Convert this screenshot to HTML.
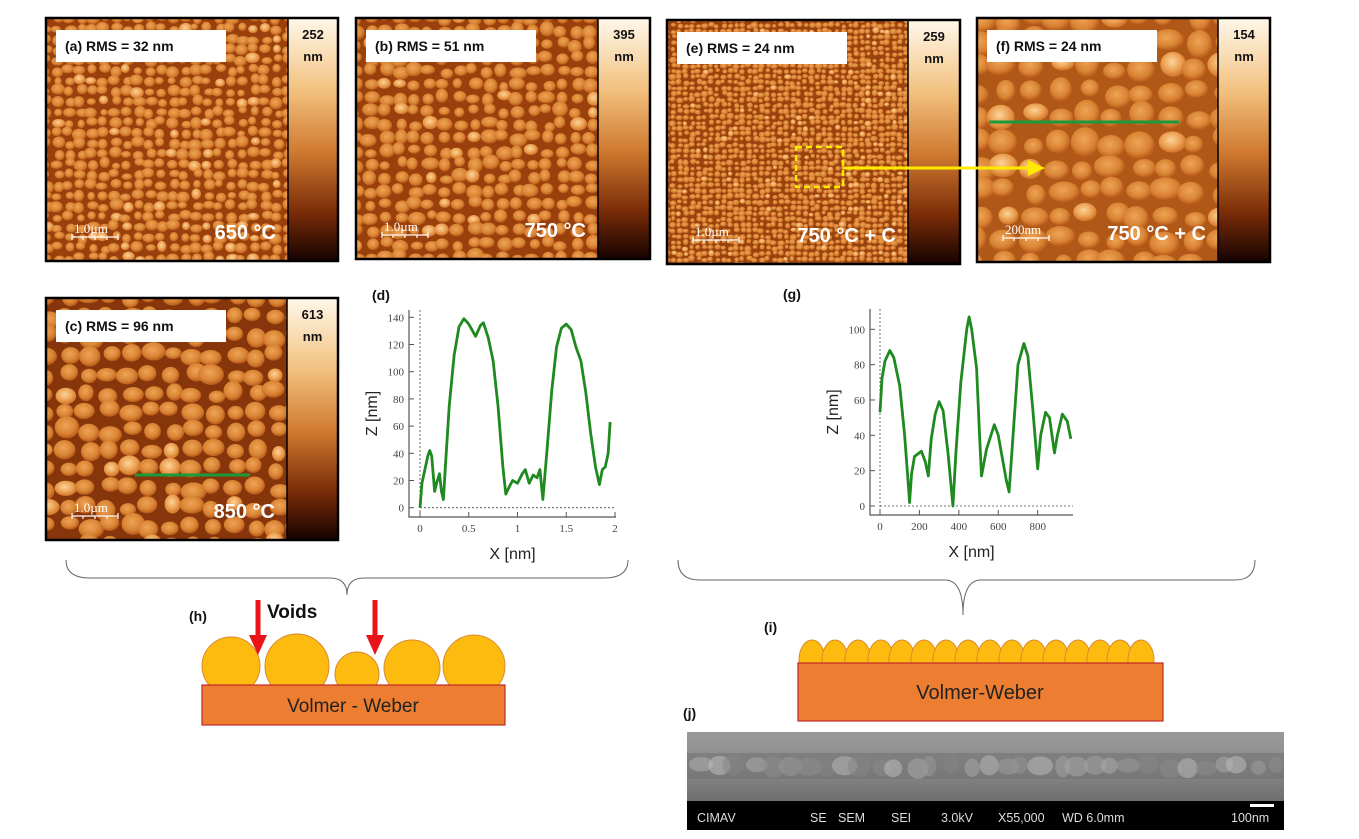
<!DOCTYPE html>
<html><head><meta charset="utf-8"><style>
body{margin:0;background:#fff;width:1359px;height:839px;overflow:hidden;font-family:"Liberation Sans",sans-serif}
svg{position:absolute;left:0;top:0}
</style></head><body>
<svg width="1359" height="839" viewBox="0 0 1359 839" xmlns="http://www.w3.org/2000/svg">
<defs>
<linearGradient id="cbar" x1="0" y1="0" x2="0" y2="1">
<stop offset="0" stop-color="#fff8ea"/><stop offset="0.3" stop-color="#f2c07e"/><stop offset="0.55" stop-color="#d07a30"/><stop offset="0.8" stop-color="#7a2c08"/><stop offset="1" stop-color="#150200"/>
</linearGradient>
<radialGradient id="grain" cx="0.45" cy="0.4" r="0.6"><stop offset="0" stop-color="#eea456"/><stop offset="0.65" stop-color="#d98434"/><stop offset="1" stop-color="#b8591a"/></radialGradient>
<radialGradient id="grainL" cx="0.45" cy="0.4" r="0.6"><stop offset="0" stop-color="#fbd49a"/><stop offset="0.6" stop-color="#eca052"/><stop offset="1" stop-color="#cf7428"/></radialGradient>
<linearGradient id="sem" x1="0" y1="0" x2="0" y2="1"><stop offset="0" stop-color="#9a9a9a"/><stop offset="0.5" stop-color="#8a8a8a"/><stop offset="1" stop-color="#6e6e6e"/></linearGradient>
</defs>
<g id="afm"></g>
<g id="charts"></g>
<g id="schem"></g>
</svg>
<script>
// ---- profile data (d) ----
const dX=[0,0.02,0.05,0.08,0.1,0.12,0.15,0.17,0.2,0.22,0.24,0.26,0.3,0.35,0.4,0.45,0.5,0.57,0.62,0.65,0.7,0.75,0.8,0.85,0.88,0.92,0.95,1.0,1.05,1.08,1.12,1.16,1.2,1.23,1.26,1.3,1.35,1.4,1.45,1.5,1.55,1.6,1.65,1.7,1.75,1.8,1.84,1.87,1.9,1.93,1.95];
const dZ=[0,18,28,38,42,38,12,18,25,12,6,30,75,112,133,139,135,126,134,136,125,108,75,30,10,16,20,18,25,28,18,24,22,28,6,40,85,118,132,135,131,118,108,85,55,30,17,28,30,40,63];
const dXTicks=[0,0.5,1,1.5,2];
const dYTicks=[0,20,40,60,80,100,120,140];
// ---- profile data (g) ----
const gX=[0,10,25,50,70,100,125,145,150,160,175,210,230,245,260,280,300,320,345,370,385,410,440,452,465,490,505,515,540,580,600,640,655,675,700,730,750,775,800,815,840,860,885,900,925,950,968];
const gZ=[53,72,82,88,84,68,40,10,2,18,28,31,25,17,38,52,59,54,30,0,30,70,100,107,100,78,40,17,32,46,40,15,8,40,80,92,85,55,21,40,53,50,30,40,52,48,38];
const gXTicks=[0,200,400,600,800];
const gYTicks=[0,20,40,60,80,100];

const NS="http://www.w3.org/2000/svg";
function mk(tag,at,parent,txt){const e=document.createElementNS(NS,tag);for(const k in at)e.setAttribute(k,at[k]);if(txt!==undefined)e.textContent=txt;parent.appendChild(e);return e;}

// ---------- AFM panels ----------
let seed=7;function rnd(){seed=(seed*16807)%2147483647;return seed/2147483647;}
const afm=document.getElementById('afm');
const panels=[
 {id:'a',x:46,y:18,w:242,h:243,cb:50,gs:11,bg:'#9a400c',val:'252',label:'(a)  RMS = 32 nm',temp:'650 °C',sc:'1.0µm'},
 {id:'b',x:356,y:18,w:242,h:241,cb:52,gs:14,bg:'#9a400c',val:'395',label:'(b)  RMS = 51 nm',temp:'750 °C',sc:'1.0µm'},
 {id:'e',x:667,y:20,w:241,h:244,cb:52,gs:6,bg:'#9a420e',val:'259',label:'(e)  RMS = 24 nm',temp:'750 °C + C',sc:'1.0µm'},
 {id:'f',x:977,y:18,w:241,h:244,cb:52,gs:26,bg:'#b05818',val:'154',label:'(f)  RMS = 24 nm',temp:'750 °C + C',sc:'200nm'},
 {id:'c',x:46,y:298,w:241,h:242,cb:51,gs:20,bg:'#86360a',val:'613',label:'(c)  RMS = 96 nm',temp:'850 °C',sc:'1.0µm'}
];
panels.forEach(p=>{
 const g=mk('g',{},afm);
 
 
 const cp=mk('clipPath',{id:'cp'+p.id},g);mk('rect',{x:p.x,y:p.y,width:p.w,height:p.h},cp);
 const ig=mk('g',{'clip-path':'url(#cp'+p.id+')'},g);
 mk('rect',{x:p.x,y:p.y,width:p.w,height:p.h,fill:p.bg},ig);
 const s=p.gs;
 for(let yy=p.y;yy<p.y+p.h+s;yy+=s*0.95){for(let xx=p.x;xx<p.x+p.w+s;xx+=s*1.05){
  const r=s*(0.36+rnd()*0.16);const light=rnd()<0.08;
  mk('ellipse',{cx:xx+(rnd()-0.5)*s*0.4,cy:yy+(rnd()-0.5)*s*0.4,rx:r*(0.9+rnd()*0.4),ry:r*(0.8+rnd()*0.3),fill:light?'url(#grainL)':'url(#grain)'},ig);
 }}
 mk('rect',{x:p.x+p.w,y:p.y,width:p.cb,height:p.h,fill:'url(#cbar)'},g);
 mk('rect',{x:p.x,y:p.y,width:p.w+p.cb,height:p.h,fill:'none',stroke:'#000','stroke-width':2.5},g);
 mk('line',{x1:p.x+p.w,y1:p.y,x2:p.x+p.w,y2:p.y+p.h,stroke:'#000','stroke-width':1.5},g);
 mk('text',{x:p.x+p.w+p.cb/2,y:p.y+21,'text-anchor':'middle','font-size':13,'font-weight':'bold',fill:'#111'},g,p.val);
 mk('text',{x:p.x+p.w+p.cb/2,y:p.y+43,'text-anchor':'middle','font-size':13,'font-weight':'bold',fill:'#111'},g,'nm');
 mk('rect',{x:p.x+10,y:p.y+12,width:170,height:32,fill:'#fff'},g);
 const lt=mk('text',{x:p.x+19,y:p.y+33,'font-size':14,'font-weight':'bold',fill:'#111'},g,p.label);
 
 
 mk('text',{x:p.x+p.w-12,y:p.y+p.h-22,'text-anchor':'end','font-size':20,'font-weight':'bold',fill:'#fff'},g,p.temp);
 mk('text',{x:p.x+28,y:p.y+p.h-28,'font-size':13,'font-family':'Liberation Serif',fill:'#fff'},g,p.sc);
 mk('path',{d:`M${p.x+26} ${p.y+p.h-24}h46M${p.x+26} ${p.y+p.h-27}v6M${p.x+37} ${p.y+p.h-24}v3M${p.x+49} ${p.y+p.h-24}v3M${p.x+61} ${p.y+p.h-24}v3M${p.x+72} ${p.y+p.h-27}v6`,stroke:'#fff','stroke-width':1.2,fill:'none'},g);
});
// green lines, yellow box/arrow
mk('line',{x1:135,y1:475,x2:250,y2:475,stroke:'#1a9a3a','stroke-width':3},afm);
mk('line',{x1:989,y1:122,x2:1179,y2:122,stroke:'#1a9a3a','stroke-width':3},afm);
mk('rect',{x:796,y:147,width:47,height:40,fill:'none',stroke:'#ffea00','stroke-width':2.5,'stroke-dasharray':'6 4'},afm);
mk('line',{x1:843,y1:168,x2:1030,y2:168,stroke:'#ffea00','stroke-width':3},afm);
mk('polygon',{points:'1028,160 1045,168 1028,176',fill:'#ffea00'},afm);

// ---------- charts ----------
const ch=document.getElementById('charts');
function chart(o){
 const g=mk('g',{},ch);
 
 
 const sx=v=>o.x0+(v-o.xmin)/(o.xmax-o.xmin)*(o.x1-o.x0);
 const sy=v=>o.y0-(v-o.ymin)/(o.ymax-o.ymin)*(o.y0-o.y1);
 mk('line',{x1:sx(0),y1:o.top,x2:sx(0),y2:o.axY,stroke:'#444','stroke-dasharray':'2 2','stroke-width':0.8},g);
 mk('line',{x1:sx(0),y1:sy(0),x2:o.axR,y2:sy(0),stroke:'#444','stroke-dasharray':'2 2','stroke-width':0.8},g);
 mk('path',{d:`M${o.axX} ${o.top}V${o.axY}H${o.axR}`,stroke:'#555',fill:'none','stroke-width':1.2},g);
 o.yt.forEach(v=>{mk('line',{x1:o.axX,y1:sy(v),x2:o.axX+5,y2:sy(v),stroke:'#555'},g);
  const t=mk('text',{x:o.axX-5,y:sy(v)+4,'text-anchor':'end','font-size':11,'font-family':'Liberation Serif',fill:'#444'},g,String(v));
  });
 o.xt.forEach(v=>{mk('line',{x1:sx(v),y1:o.axY,x2:sx(v),y2:o.axY-5,stroke:'#555'},g);
  const t=mk('text',{x:sx(v),y:o.axY+15,'text-anchor':'middle','font-size':11,'font-family':'Liberation Serif',fill:'#444'},g,String(v));
  });
 const xt=mk('text',{x:(o.axX+o.axR)/2,y:o.axY+42,'text-anchor':'middle','font-size':16,fill:'#222'},g,'X [nm]');
 
 const yt=mk('text',{x:0,y:0,transform:`translate(${o.axX-32},${(o.top+o.axY)/2}) rotate(-90)`,'text-anchor':'middle','font-size':16,fill:'#222'},g,'Z [nm]');
 
 const pl=mk('polyline',{points:o.X.map((v,i)=>sx(v)+','+sy(o.Z[i])).join(' '),fill:'none',stroke:'#1f8a1f','stroke-width':2.8,'stroke-linejoin':'round'},g);
 
 mk('text',{x:o.lx,y:o.ly,'font-size':14,'font-weight':'bold',fill:'#111'},g,'('+o.id+')');
}
chart({id:'d',X:dX,Z:dZ,xt:dXTicks,yt:dYTicks,xmin:0,xmax:2,ymin:0,ymax:140,x0:420,x1:615,y0:507.7,y1:317.3,axX:409,axY:517,axR:616,top:310,lx:372,ly:300});
chart({id:'g',X:gX,Z:gZ,xt:gXTicks,yt:gYTicks,xmin:0,xmax:800,ymin:0,ymax:100,x0:880,x1:1037.7,y0:506,y1:329.3,axX:870,axY:515,axR:1073,top:309,lx:783,ly:299});

// ---------- schematics ----------
const sc=document.getElementById('schem');
mk('path',{d:'M66 560 Q66 578 90 578 L330 578 Q347 578 347 595 Q347 578 364 578 L604 578 Q628 578 628 560',fill:'none',stroke:'#666','stroke-width':1},sc);
mk('path',{d:'M678 560 Q678 580 700 580 L945 580 Q963 580 963 615 Q963 580 981 580 L1235 580 Q1255 580 1255 560',fill:'none',stroke:'#666','stroke-width':1},sc);
// (h)
mk('text',{x:189,y:621,'font-size':14,'font-weight':'bold',fill:'#111'},sc,'(h)');
[[231,666,29],[297,666,32],[357,674,22],[412,668,28],[474,666,31]].forEach(c=>mk('circle',{cx:c[0],cy:c[1],r:c[2],fill:'#fdbb0f',stroke:'#d88a30','stroke-width':1},sc));
const r1=mk('rect',{x:202,y:685,width:303,height:40,fill:'#ed7d31',stroke:'#c0282a','stroke-width':1.2},sc);

mk('text',{x:353,y:712,'text-anchor':'middle','font-size':19,fill:'#222'},sc,'Volmer - Weber');
mk('text',{x:267,y:618,'font-size':19,'font-weight':'bold',fill:'#111'},sc,'Voids');
[258,375].forEach(x=>{mk('rect',{x:x-2.5,y:600,width:5,height:35,fill:'#e8141a'},sc);mk('polygon',{points:`${x-9},635 ${x+9},635 ${x},655`,fill:'#e8141a'},sc);});
// (i)
mk('text',{x:764,y:632,'font-size':14,'font-weight':'bold',fill:'#111'},sc,'(i)');
const ix=[812,835,858,881,902,924,946,968,990,1012,1034,1056,1078,1100,1120,1141];
ix.forEach(x=>mk('ellipse',{cx:x,cy:660,rx:13,ry:20,fill:'#fdbb0f',stroke:'#d88a30','stroke-width':1},sc));
mk('rect',{x:790,y:620,width:8,height:45,fill:'#fff'},sc);mk('rect',{x:1163,y:620,width:10,height:45,fill:'#fff'},sc);
const r2=mk('rect',{x:798,y:663,width:365,height:58,fill:'#ed7d31',stroke:'#c0282a','stroke-width':1.2},sc);

mk('text',{x:980,y:699,'text-anchor':'middle','font-size':20,fill:'#222'},sc,'Volmer-Weber');
// (j) SEM
mk('text',{x:683,y:718,'font-size':14,'font-weight':'bold',fill:'#111'},sc,'(j)');
const sg=mk('g',{},sc);
mk('rect',{x:687,y:732,width:597,height:70,fill:'url(#sem)'},sg);
mk('rect',{x:687,y:753,width:597,height:26,fill:'#6e6e6e',opacity:0.5},sg);
for(let x=695;x<1280;x+=18){const b=130+Math.floor(rnd()*60);mk('ellipse',{cx:x+rnd()*8,cy:764+rnd()*5,rx:7+rnd()*6,ry:7+rnd()*4,fill:`rgb(${b},${b},${b})`,opacity:0.55},sg);}
mk('rect',{x:687,y:801,width:597,height:29,fill:'#000'},sg);
[['CIMAV',697],['SE',810],['SEM',838],['SEI',891],['3.0kV',941],['X55,000',998],['WD 6.0mm',1062],['100nm',1146]].forEach(t=>mk('text',{x:t[1]+(t[0]==='100nm'?85:0),y:822,'font-size':12.5,fill:'#ddd'},sg,t[0]));
mk('rect',{x:1250,y:804,width:24,height:3,fill:'#fff'},sg);
</script>
</body></html>
